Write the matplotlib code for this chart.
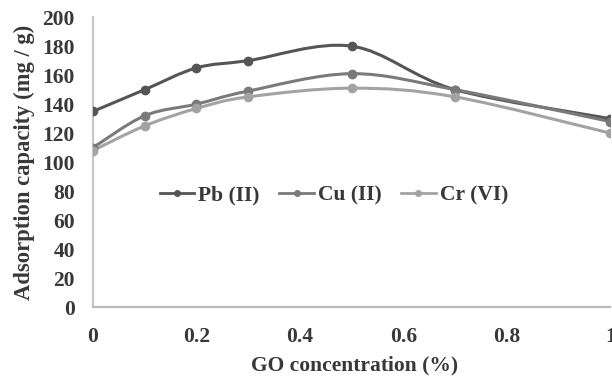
import matplotlib

matplotlib.use("Agg")
from matplotlib import pyplot as plt
from matplotlib.path import Path
from matplotlib.patches import PathPatch
from matplotlib.lines import Line2D

go_conc = [0, 0.1, 0.2, 0.3, 0.5, 0.7, 1.0]
pb_vals = [135, 150, 165, 170, 180, 150, 130]
cu_vals = [110, 132, 140, 149, 161, 150, 128]
cr_vals = [108, 125, 137, 145, 151, 145, 120]

series_names = ["Pb (II)", "Cu (II)", "Cr (VI)"]
series_colors = ["#555555", "#7a7a7a", "#a3a3a3"]
y_ticks = list(range(0, 201, 20))
x_ticks = [0, 0.2, 0.4, 0.6, 0.8, 1]
TXT = '#383838'


def smooth_path(xs, ys, k=1 / 6):
    """Excel-like smooth line: cubic bezier through the points."""
    verts = [(xs[0], ys[0])]
    codes = [Path.MOVETO]
    n = len(xs)
    for i in range(n - 1):
        x0, y0 = xs[max(i - 1, 0)], ys[max(i - 1, 0)]
        x1, y1 = xs[i], ys[i]
        x2, y2 = xs[i + 1], ys[i + 1]
        x3, y3 = xs[min(i + 2, n - 1)], ys[min(i + 2, n - 1)]
        c1 = (x1 + (x2 - x0) * k, y1 + (y2 - y0) * k)
        c2 = (x2 - (x3 - x1) * k, y2 - (y3 - y1) * k)
        verts += [c1, c2, (x2, y2)]
        codes += [Path.CURVE4] * 3
    return Path(verts, codes)


plt.rcParams['font.family'] = ['Liberation Serif', 'DejaVu Serif']
plt.rcParams['font.weight'] = 'bold'

fig = plt.figure(figsize=(6.12, 3.81), dpi=100)
ax = fig.add_axes([0.152, 0.194, 0.845, 0.761])

handles = []
for vals, name, col in zip([pb_vals, cu_vals, cr_vals], series_names, series_colors):
    ax.add_patch(PathPatch(smooth_path(go_conc, vals), facecolor='none',
                           edgecolor=col, lw=2.2, zorder=3))
    ax.plot(go_conc, vals, ls='none', marker='o', ms=6, color=col, zorder=4)
    handles.append(Line2D([], [], color=col, lw=2, marker='o', ms=4, label=name))

ax.set_xlim(0, 1)
ax.set_ylim(0, 200)
ax.set_xticks(x_ticks)
ax.set_xticklabels(['0', '0.2', '0.4', '0.6', '0.8', '1'])
ax.set_yticks(y_ticks)
ax.tick_params(length=0, labelsize=15.5, colors=TXT)
ax.tick_params(axis='y', pad=13)
ax.tick_params(axis='x', pad=14)

for s in ['top', 'right']:
    ax.spines[s].set_visible(False)
ax.spines['left'].set_color('#c8c8c8')
ax.spines['bottom'].set_color('#bbbbbb')
ax.spines['left'].set_linewidth(1.6)
ax.spines['bottom'].set_linewidth(1.6)

fig.text(355 / 612, 1 - 365 / 381, 'GO concentration (%)', fontsize=15.5,
         fontweight='bold', color=TXT, ha='center', va='center')
fig.text(24 / 612, 1 - 162 / 381, 'Adsorption capacity (mg / g)', fontsize=16.3,
         fontweight='bold', color=TXT, ha='center', va='center', rotation=90)

ax.legend(handles=handles, loc='center', bbox_to_anchor=(0.466, 0.386), ncol=3,
          frameon=False, handlelength=1.6, handletextpad=0.2,
          columnspacing=0.9, labelcolor=TXT,
          prop={'family': 'Liberation Serif', 'weight': 'bold', 'size': 15.5})

fig.savefig('out.png', dpi=100)
